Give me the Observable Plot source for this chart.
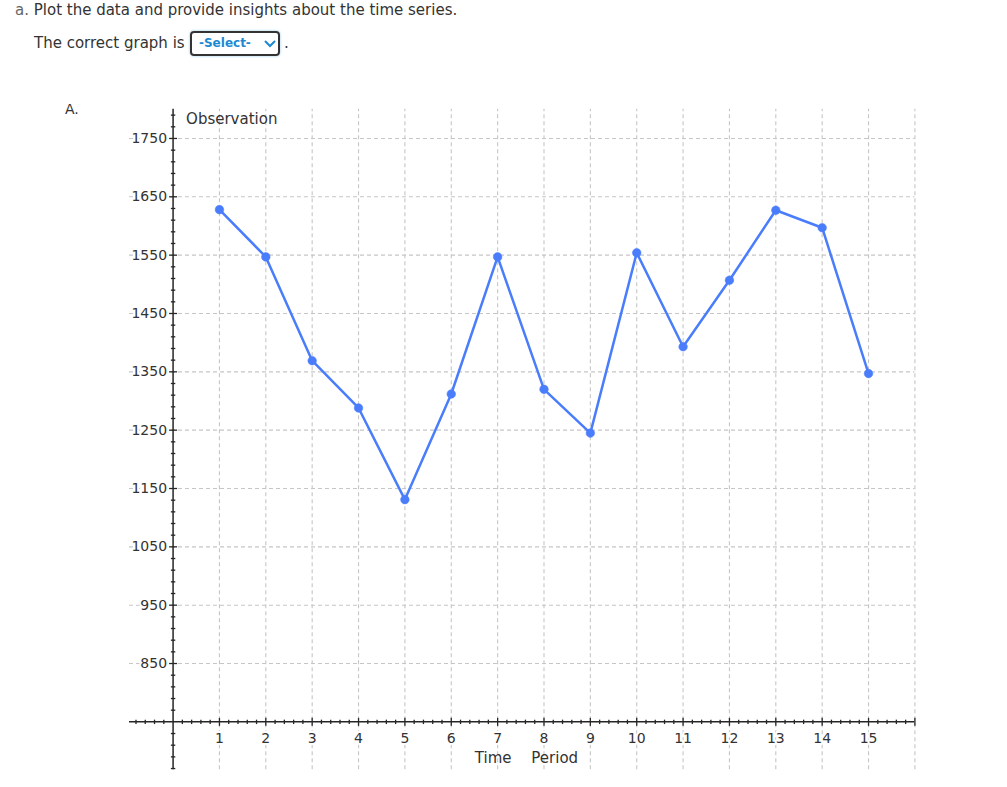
<!DOCTYPE html>
<html><head><meta charset="utf-8">
<script src="https://cdn.jsdelivr.net/npm/d3@7"></script>
<script src="https://cdn.jsdelivr.net/npm/@observablehq/plot@0.6"></script>
<style>
html,body{margin:0;padding:0;background:#fff;}
body{position:relative;width:1007px;height:787px;overflow:hidden;font-family:"DejaVu Sans",Verdana,sans-serif;color:#333;}
#head{position:relative;height:95px;width:1007px;}
.q{position:absolute;left:15px;top:1px;font-size:15px;white-space:nowrap;}
.q .a{color:#666;}
.l2{position:absolute;left:34px;top:34px;font-size:15px;white-space:nowrap;}
.sel{position:absolute;left:190px;top:31px;width:86px;height:21px;border:2px solid #333;border-radius:4px;box-shadow:0 0 2px 1px #cfe6f7;}
.sel span{position:absolute;left:7px;top:3px;font-size:12px;font-weight:bold;color:#1b8ad3;}
.sel svg{position:absolute;left:72px;top:6px;}
.dot{position:absolute;left:284px;top:34px;font-size:15px;}
.A{position:absolute;left:65px;top:101px;font-size:14px;}
#chart{position:relative;}
</style></head><body>
<div id="head">
  <div class="q"><span class="a">a.</span> Plot the data and provide insights about the time series.</div>
  <div class="l2">The correct graph is</div>
  <div class="sel"><span>-Select-</span><svg width="12" height="9" viewBox="0 0 12 9"><polyline points="1,2 6,7 11,2" fill="none" stroke="#1b8ad3" stroke-width="2"/></svg></div>
  <div class="dot">.</div>
</div>
<div class="A">A.</div>
<div id="chart"></div>
<script>
// Data
const periods = [1, 2, 3, 4, 5, 6, 7, 8, 9, 10, 11, 12, 13, 14, 15];
const observations = [1628, 1547, 1369, 1288, 1131, 1312, 1547, 1320, 1245, 1554, 1393, 1507, 1627, 1597, 1347];
const xTickLabels = [1, 2, 3, 4, 5, 6, 7, 8, 9, 10, 11, 12, 13, 14, 15];
const xGridValues = [1, 2, 3, 4, 5, 6, 7, 8, 9, 10, 11, 12, 13, 14, 15, 16];
const yTickLabels = [850, 950, 1050, 1150, 1250, 1350, 1450, 1550, 1650, 1750];
const yAxisLabel = "Observation";
const xAxisLabel = "Time Period";

const rows = periods.map((t, i) => ({t, v: observations[i]}));
const xMinor = d3.range(-0.8, 16.001, 0.2).map(d => +d.toFixed(1)).filter(d => Math.abs(d - Math.round(d)) > 1e-6);
const xMajor = xGridValues;
const yMinor = d3.range(670, 1800, 20).filter(d => (d - 750) % 100 !== 0);
const yMajor = yTickLabels;

const blue = "#4a7dfc";
const ink = "#262626";
const grid = "#c6c6c6";

const vTick = {draw(ctx, size) {const l = Math.sqrt(size / Math.PI); ctx.moveTo(0, -l); ctx.lineTo(0, l);}};
const hTick = {draw(ctx, size) {const l = Math.sqrt(size / Math.PI); ctx.moveTo(-l, 0); ctx.lineTo(l, 0);}};

const X0 = -0.94, X1 = 16, Y0 = 668, Y1 = 1800;

const chart = Plot.plot({
  width: 1007,
  height: 692,
  x: {domain: [X0, X1], range: [129.0, 914.4], axis: null},
  y: {domain: [Y0, Y1], range: [674.2, 13.8], axis: null},
  style: {fontFamily: "DejaVu Sans, sans-serif", fontSize: "14px", background: "transparent", overflow: "visible"},
  marks: [
    Plot.ruleX(xGridValues, {x: d => d, y1: Y0, y2: Y1, stroke: grid, strokeWidth: 1.1, strokeDasharray: "4,3"}),
    Plot.ruleY(yTickLabels, {y: d => d, x1: X0, x2: X1, stroke: grid, strokeWidth: 1.1, strokeDasharray: "4,3"}),
    Plot.ruleY([750], {x1: X0, x2: X1, stroke: ink, strokeWidth: 1.5}),
    Plot.ruleX([0], {y1: Y0, y2: Y1, stroke: ink, strokeWidth: 1.5}),
    Plot.dot(xMinor, {x: d => d, y: 750, symbol: vTick, r: 2.2, fill: "none", stroke: ink, strokeWidth: 1.3}),
    Plot.dot(xMajor, {x: d => d, y: 750, symbol: vTick, r: 4, fill: "none", stroke: ink, strokeWidth: 1.3}),
    Plot.dot(yMinor, {x: 0, y: d => d, symbol: hTick, r: 2.2, fill: "none", stroke: ink, strokeWidth: 1.3}),
    Plot.dot(yMajor, {x: 0, y: d => d, symbol: hTick, r: 4, fill: "none", stroke: ink, strokeWidth: 1.3}),
    Plot.text(xTickLabels, {x: d => d, y: 750, dy: 17, text: d => String(d), fontSize: 14, fill: "#333", stroke: "white", strokeWidth: 4, paintOrder: "stroke"}),
    Plot.text(yTickLabels, {x: 0, y: d => d, dx: -6, textAnchor: "end", text: d => String(d), fontSize: 14, fill: "#333", stroke: "white", strokeWidth: 4, paintOrder: "stroke"}),
    Plot.text([yAxisLabel], {x: 0, y: Y1, dx: 13, dy: 10, textAnchor: "start", text: d => d, fontSize: 15, fill: "#333"}),
    Plot.text([xAxisLabel], {x: 8, y: 750, dx: -17.5, dy: 36, text: d => d, fontSize: 15, fill: "#333"}),
    Plot.line(rows, {x: "t", y: "v", stroke: blue, strokeWidth: 2.5}),
    Plot.dot(rows, {x: "t", y: "v", r: 4.3, fill: blue, stroke: blue, strokeWidth: 0.5})
  ]
});
document.getElementById("chart").appendChild(chart);
d3.select(chart).selectAll("text").filter(function() { return this.textContent === xAxisLabel; }).style("word-spacing", "15px");
</script>
</body></html>
